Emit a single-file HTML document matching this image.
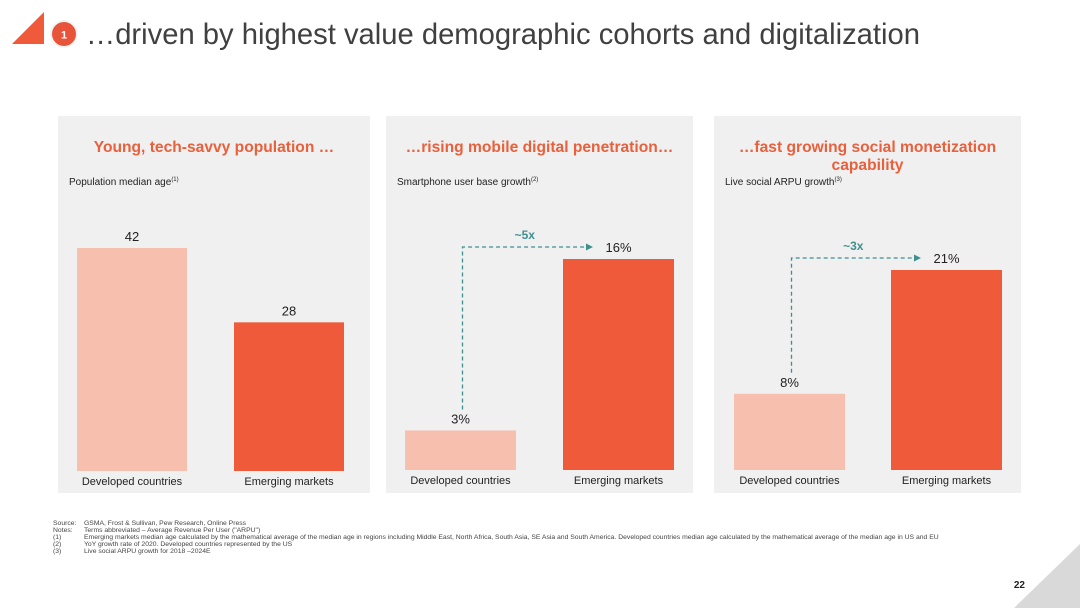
<!DOCTYPE html>
<html><head><meta charset="utf-8"><style>
html,body{margin:0;padding:0;background:#fff}
svg{display:block;font-family:"Liberation Sans",Arial,sans-serif}
</style></head><body>
<svg id="s" width="1080" height="608" viewBox="0 0 1080 608" xmlns="http://www.w3.org/2000/svg">
<polygon points="12,44 44,12 44,44" fill="#ee5a3a"/>
<circle cx="64" cy="34" r="13" fill="#e8543a" stroke="#f4f4f4" stroke-width="2"/>
<text x="64" y="38.5" font-size="11" fill="#fff" text-anchor="middle" font-weight="bold">1</text>
<text x="86" y="44" font-size="29.2" fill="#404040">…driven by highest value demographic cohorts and digitalization</text>
<polygon points="1080,544 1080,608 1014,608" fill="#d9d9d9"/>
<text x="1025" y="588" font-size="10" font-weight="bold" fill="#222" text-anchor="end">22</text>
<g font-size="6.8" fill="#444">
<text x="53" y="525">Source:</text><text x="84" y="525">GSMA, Frost &amp; Sullivan, Pew Research, Online Press</text>
<text x="53" y="532">Notes:</text><text x="84" y="532">Terms abbreviated – Average Revenue Per User ("ARPU")</text>
<text x="53" y="539">(1)</text><text x="84" y="539">Emerging markets median age calculated by the mathematical average of the median age in regions including Middle East, North Africa, South Asia, SE Asia and South America. Developed countries median age calculated by the mathematical average of the median age in US and EU</text>
<text x="53" y="546">(2)</text><text x="84" y="546">YoY growth rate of 2020. Developed countries represented by the US</text>
<text x="53" y="553">(3)</text><text x="84" y="553">Live social ARPU growth for 2018 –2024E</text>
</g>
<g id="panels"></g>
</svg>
<script>
const categories = ["Developed countries", "Emerging markets"];
const ageValues = [42, 28];
const ageLabels = ["42", "28"];
const smartphoneValues = [3, 16];
const smartphoneLabels = ["3%", "16%"];
const arpuValues = [8, 21];
const arpuLabels = ["8%", "21%"];
const multiples = ["", "~5x", "~3x"];

const NS = "http://www.w3.org/2000/svg";
const root = document.getElementById("panels");
function mk(tag, attrs, parent, text) {
  const e = document.createElementNS(NS, tag);
  for (const k in attrs) e.setAttribute(k, attrs[k]);
  if (text !== undefined) e.textContent = text;
  parent.appendChild(e);
  return e;
}
const panels = [
  {x:58, w:312, title:["Young, tech-savvy population …"], sub:"Population median age", sup:"(1)", vals:ageValues, labs:ageLabels, bx:[77,234], bw:110, base:471, scale:223/42, mult:multiples[0], name:"median-age"},
  {x:386, w:307, title:["…rising mobile digital penetration…"], sub:"Smartphone user base growth", sup:"(2)", vals:smartphoneValues, labs:smartphoneLabels, bx:[405,563], bw:111, base:470, scale:211/16, mult:multiples[1], name:"smartphone-growth"},
  {x:714, w:307, title:["…fast growing social monetization","capability"], sub:"Live social ARPU growth", sup:"(3)", vals:arpuValues, labs:arpuLabels, bx:[734,891], bw:111, base:470, scale:200/21, mult:multiples[2], name:"arpu-growth"}
];
const colors = ["#f7bfae", "#ee5a3a"];
panels.forEach((p, pi) => {
  const g = mk("g", {}, root);
  
  
  const bg = mk("rect", {x:p.x, y:116, width:p.w, height:377, fill:"#f0f0f0"}, g);
  
  
  p.title.forEach((t, i) => {
    const tt = mk("text", {x:p.x + p.w/2, y:152 + i*18, "font-size":15.6, "font-weight":"bold", fill:"#e8603c", "text-anchor":"middle"}, g, t);
    
    
  });
  const st = mk("text", {x:p.x + 11, y:185, "font-size":10, fill:"#222"}, g, p.sub);
  mk("tspan", {"font-size":6, dy:-4}, st, p.sup);
  
  
  const tops = [];
  p.vals.forEach((v, i) => {
    const h = v * p.scale, top = p.base - h;
    tops.push(top);
    const r = mk("rect", {x:p.bx[i], y:top, width:p.bw, height:h, fill:colors[i]}, g);
    
    
    const vl = mk("text", {x:p.bx[i] + p.bw/2, y:top - 7, "font-size":13, fill:"#222", "text-anchor":"middle"}, g, p.labs[i]);
    
    
    const cl = mk("text", {x:p.bx[i] + p.bw/2, y:p.base + 14, "font-size":11, fill:"#222", "text-anchor":"middle"}, g, categories[i]);
    
    
  });
  if (p.mult) {
    const vx = p.bx[0] + p.bw/2 + 2;
    const ay = tops[1] - 12;
    const ex = p.bx[1] + 24;
    const path = mk("path", {d:`M${vx},${tops[0]-7-14} L${vx},${ay} L${ex},${ay}`, fill:"none", stroke:"#3f8f8f", "stroke-width":1.3, "stroke-dasharray":"4,3"}, g);
    
    
    const head = mk("polygon", {points:`${ex+6},${ay} ${ex-1},${ay-3.5} ${ex-1},${ay+3.5}`, fill:"#3f8f8f"}, g);
    
    
    const ml = mk("text", {x:(vx + ex)/2, y:ay - 8, "font-size":12, "font-weight":"bold", fill:"#3f8f8f", "text-anchor":"middle"}, g, p.mult);
    
    
  }
});
</script>
</body></html>
